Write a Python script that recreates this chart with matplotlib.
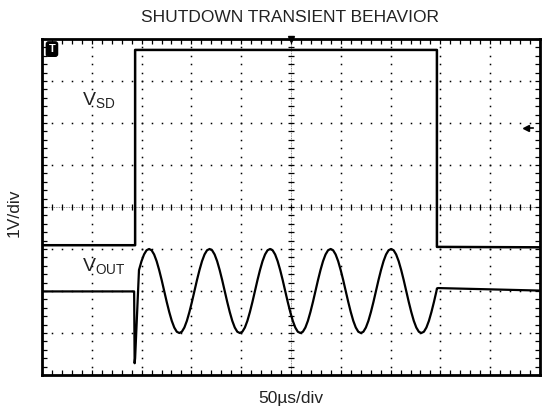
import numpy as np
import matplotlib
matplotlib.use("Agg")
import matplotlib.pyplot as plt

plt.rcParams["font.family"] = ["Liberation Sans", "DejaVu Sans"]

# ---- 读图数据 (单位: 格, x 0..10, y -4..4) ----
VSD_T = [0.0, 1.87, 1.87, 7.93, 7.93, 10.0]
VSD_V = [-0.91, -0.91, 3.74, 3.74, -0.95, -0.96]

VOUT_PRE_T = [0.0, 1.85, 1.86, 1.87]
VOUT_PRE_V = [-2.01, -2.01, -3.72, -3.60]

# 一个周期的采样 (从波峰开始, 24 点/周期), 读自图
ONE_CYCLE = [-1.00, -1.03, -1.13, -1.29, -1.50, -1.74, -2.00, -2.26,
             -2.50, -2.71, -2.87, -2.97, -3.00, -2.97, -2.87, -2.71,
             -2.50, -2.26, -2.00, -1.74, -1.50, -1.29, -1.13, -1.03]
N_CYCLES = 5
PEAK1_T = 2.15        # 第一个波峰 (格)
PERIOD = 1.215        # 周期 (格)
BURST_START = 1.88    # 开始 (VSD 上升沿)
BURST_END = 7.93      # 结束 (VSD 下降沿)
BURST_LEAD_V = [-1.50, -1.29, -1.13, -1.03]   # 第一个波峰前的上升段

VOUT_POST_T = [7.93, 7.95, 10.0]
VOUT_POST_V = [-1.94, -1.93, -1.99]

TITLE = "SHUTDOWN TRANSIENT BEHAVIOR"
XLABEL = "50\u00b5s/div"
YLABEL = "1V/div"

fig = plt.figure(figsize=(5.43, 4.12), dpi=100)
ax = fig.add_axes([42 / 543, 1 - 375 / 412, 498 / 543, 336 / 412])
ax.set_xlim(0, 10)
ax.set_ylim(-4, 4)

# 点状网格 (每格 5 点)
sub = np.arange(0, 10.01, 0.2)
subv = np.arange(-4, 4.01, 0.2)
for gx in range(1, 10):
    if gx == 5:
        continue
    ax.plot(np.full_like(subv, gx), subv, ls="none", marker="s", ms=1.1,
            mec="none", mfc="k", zorder=1)
for gy in range(-3, 4):
    if gy == 0:
        continue
    ax.plot(sub, np.full_like(sub, gy), ls="none", marker="s", ms=1.1,
            mec="none", mfc="k", zorder=1)

# 中心十字 + 刻度
ax.axhline(0, color="#666", lw=0.6, ls=(0, (1, 1)), zorder=1)
ax.axvline(5, color="#666", lw=0.6, ls=(0, (1, 1)), zorder=1)
ax.plot(sub, np.zeros_like(sub), ls="none", marker="|", ms=5, mew=0.9, color="k", zorder=1)
ax.plot(np.full_like(subv, 5), subv, ls="none", marker="_", ms=5, mew=0.9, color="k", zorder=1)

# 边框刻度
ax.set_xticks(np.arange(0, 10.01, 1))
ax.set_yticks(np.arange(-4, 4.01, 1))
ax.set_xticks(sub, minor=True)
ax.set_yticks(subv, minor=True)
ax.tick_params(which="both", direction="in", length=3.5, width=0.9,
               top=True, right=True, labelbottom=False, labelleft=False)
for s in ax.spines.values():
    s.set_linewidth(2.0)

# 波形
ax.plot(VSD_T, VSD_V, color="k", lw=1.8, zorder=3)

step = PERIOD / len(ONE_CYCLE)
lead_t = PEAK1_T - step * np.arange(len(BURST_LEAD_V), 0, -1)
cyc_v = np.tile(ONE_CYCLE, N_CYCLES + 1)
cyc_t = PEAK1_T + step * np.arange(len(cyc_v))
keep = cyc_t <= BURST_END
burst_t = np.concatenate([lead_t, cyc_t[keep]])
burst_v = np.concatenate([BURST_LEAD_V, cyc_v[keep]])
burst_sel = burst_t >= BURST_START

vout_t = list(VOUT_PRE_T) + list(burst_t[burst_sel]) + list(VOUT_POST_T)
vout_v = list(VOUT_PRE_V) + list(burst_v[burst_sel]) + list(VOUT_POST_V)
ax.plot(vout_t, vout_v, color="k", lw=1.6, zorder=3)

# 标注
ax.text(0.8, 2.53, r"V$_{\mathregular{SD}}$", fontsize=14, va="center", ha="left", color="#222")
ax.text(0.8, -1.43, r"V$_{\mathregular{OUT}}$", fontsize=14, va="center", ha="left", color="#222")

# 触发标记
ax.text(0.2, 3.76, "T", color="w", fontsize=8, fontweight="bold", ha="center", va="center",
        bbox=dict(boxstyle="round,pad=0.2", fc="k", ec="k"), zorder=5)
ax.plot([5], [4.0], marker="v", ms=5, color="k", clip_on=False, zorder=5)
ax.plot([9.72], [1.88], marker="<", ms=4, color="k", zorder=5)
ax.plot([9.72, 9.86], [1.88, 1.88], color="k", lw=1.2, zorder=5)

fig.text(290 / 543, 1 - 17 / 412, TITLE, ha="center", va="center", fontsize=12.5, color="#222")
fig.text(291 / 543, 1 - 398 / 412, XLABEL, ha="center", va="center", fontsize=12.5, color="#222")
fig.text(14 / 543, 1 - 213 / 412, YLABEL, ha="center", va="center", rotation=90,
         fontsize=12.5, color="#222")

fig.savefig("out.png", dpi=100)
